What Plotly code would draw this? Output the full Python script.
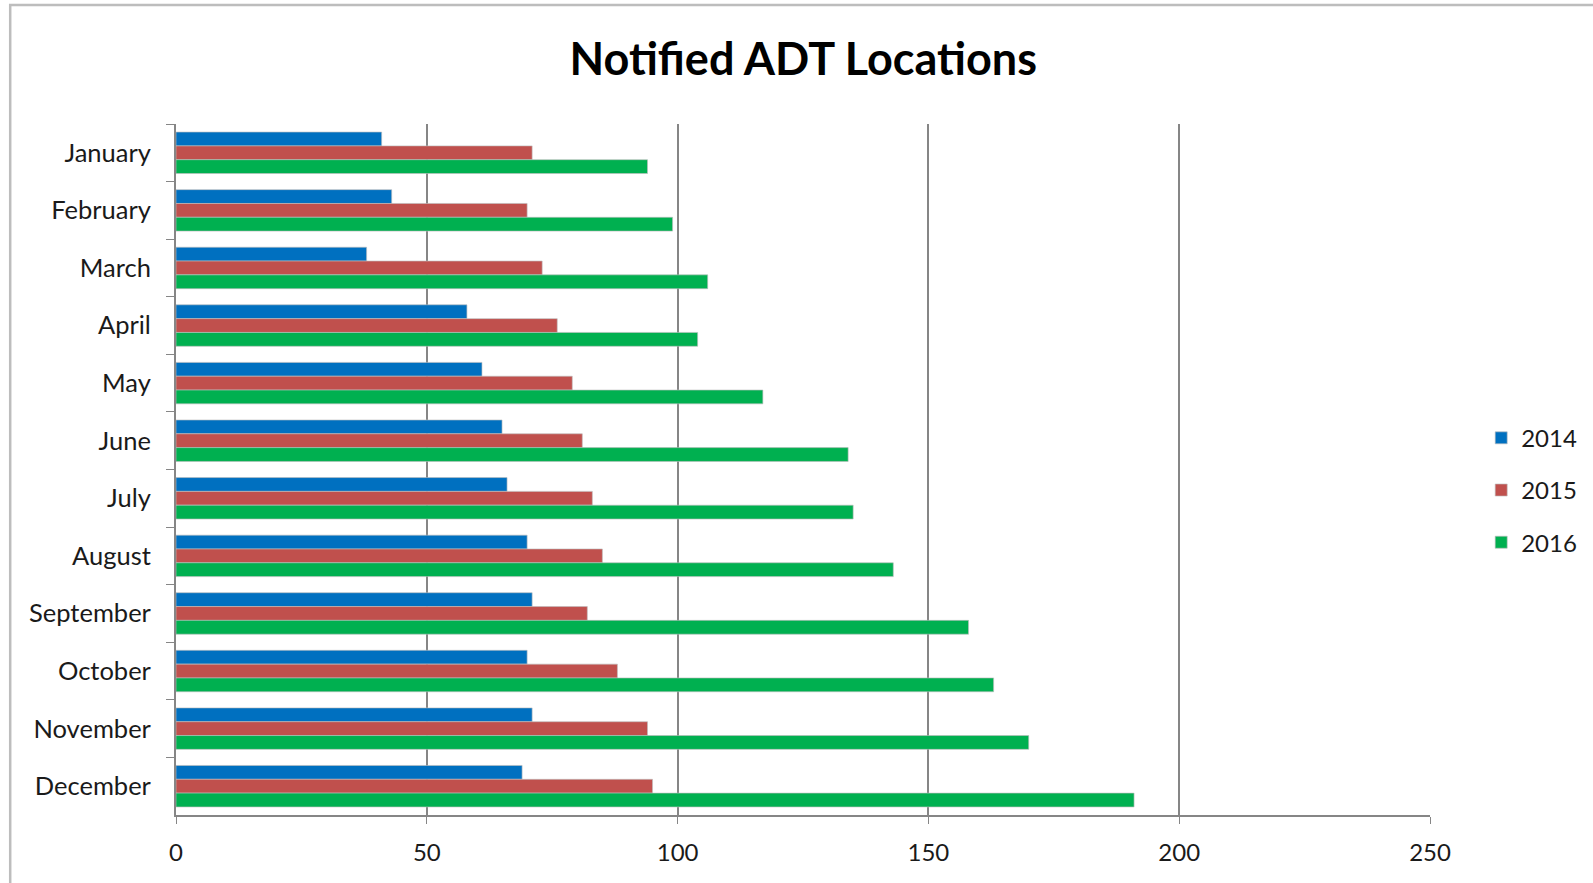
import plotly.graph_objects as go

months = ["January", "February", "March", "April", "May", "June", "July",
          "August", "September", "October", "November", "December"]
v2014 = [41, 43, 38, 58, 61, 65, 66, 70, 71, 70, 71, 69]
v2015 = [71, 70, 73, 76, 79, 81, 83, 85, 82, 88, 94, 95]
v2016 = [94, 99, 106, 104, 117, 134, 135, 143, 158, 163, 170, 191]
series = [("2014", v2014, "#0070C0"), ("2015", v2015, "#C0504D"), ("2016", v2016, "#00B050")]
x_ticks = [0, 50, 100, 150, 200, 250]

FONT = "Lato"
fig = go.Figure()
for name, vals, col in series:
    fig.add_trace(go.Bar(
        y=months, x=vals, name=name, orientation="h",
        marker=dict(color=col, line=dict(color="rgba(190,190,190,0.9)", width=0.7)),
        legendgroup=name,
    ))

W, H = 1593, 883
L, T = 176, 124
R = W - 1431.5
B = H - 815
pw, ph = W - L - R, H - T - B

fig.update_layout(
    width=W, height=H,
    margin=dict(l=L, r=R, t=T, b=B),
    paper_bgcolor="white", plot_bgcolor="white",
    barmode="group", bargap=0.28, bargroupgap=0,
    font=dict(family=FONT, size=24, color="#1a1a1a"),
    title=dict(text="<b>Notified ADT Locations</b>", x=(804 - L) / pw, xref="paper", xanchor="center",
               y=1 - 59 / H, yanchor="middle", font=dict(family=FONT, size=45, color="black")),
    legend=dict(x=1.040, xanchor="left", y=0.47, yanchor="middle",
                font=dict(family=FONT, size=24, color="#1a1a1a"),
                tracegroupgap=18, bgcolor="rgba(0,0,0,0)"),
    xaxis=dict(range=[0, 250], tickvals=x_ticks, showgrid=True, gridcolor="#868686", gridwidth=1.5,
               showline=True, linecolor="#868686", linewidth=2, ticks="outside", ticklen=7,
               tickcolor="#868686", ticklabelstandoff=8, zeroline=False, fixedrange=True,
               tickfont=dict(family=FONT, size=24)),
    yaxis=dict(autorange="reversed", showline=True, linecolor="#868686", linewidth=2,
               ticks="outside", ticklen=8, tickcolor="#868686", tickson="boundaries",
               ticklabelstandoff=18, showgrid=False, tickfont=dict(family=FONT, size=25.5)),
    shapes=[dict(type="rect", xref="paper", yref="paper",
                 x0=(10 - L) / pw, x1=(W + 20 - L) / pw,
                 y0=-(B + 20) / ph, y1=(H - B - 5) / ph,
                 line=dict(color="#bdbdbd", width=2.5), fillcolor="rgba(0,0,0,0)", layer="below")],
)

fig.write_html("out.html", config={"displayModeBar": False},
               post_script="document.body.style.margin='0';")
